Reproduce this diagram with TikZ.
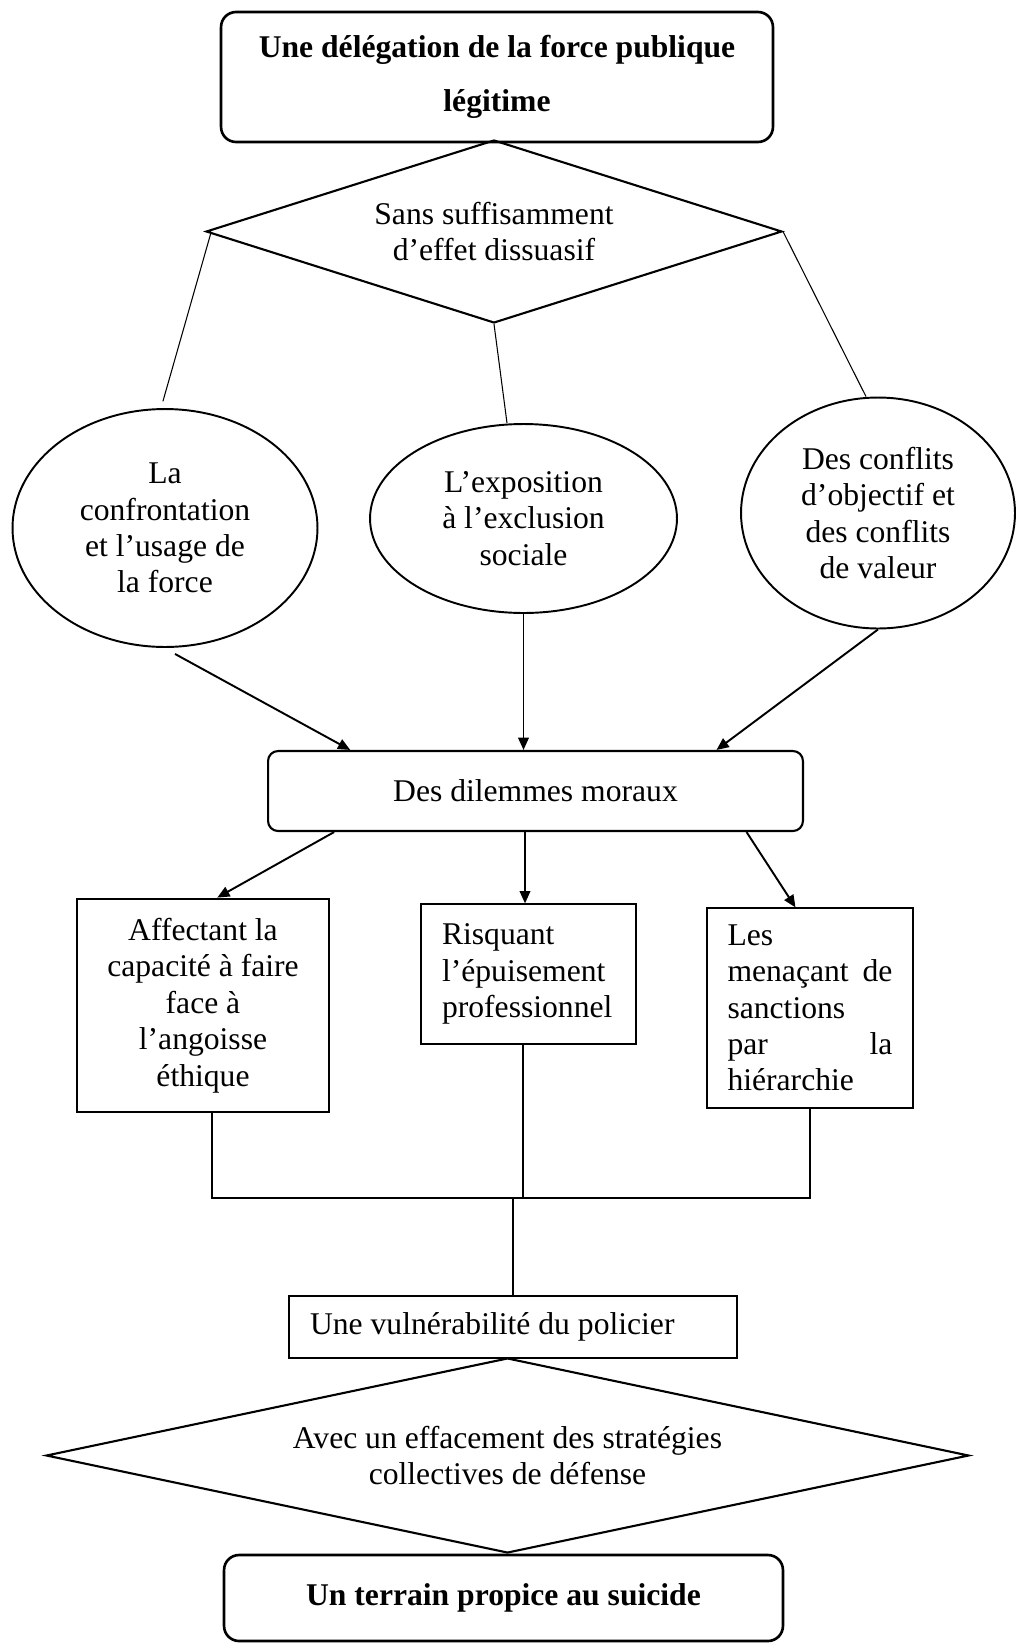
\documentclass[tikz,border=0pt]{standalone}
\usepackage{fontspec}
\setmainfont{Liberation Serif}
\usetikzlibrary{shapes.geometric}
\usetikzlibrary{arrows.meta}
\usetikzlibrary{calc}

\tikzset{
  txt/.style={font=\fontsize{18}{20.7}\selectfont, align=center},
  titre/.style={draw, line width=1.5pt, rounded corners=0.3cm, align=center,
                font=\bfseries\fontsize{18}{31}\selectfont},
  losange/.style={draw, diamond, line width=1.2pt, inner sep=0pt, txt},
  bulle/.style={draw, ellipse, line width=1.1pt, inner sep=0pt, txt},
  cadre/.style={draw, line width=0.7pt, txt},
  fleche/.style={line width=1.1pt, -{Triangle[length=7pt,width=6pt]}},
  fin/.style={line width=0.6pt}
}

\begin{document}
\begin{tikzpicture}[x=0.02cm,y=-0.02cm]
\useasboundingbox (0,0) rectangle (1016,1643);

\node[titre, minimum width=11.04cm, minimum height=2.6cm] (deleg) at (497,77)
     {Une délégation de la force publique\\légitime};
\node[losange, minimum width=11.52cm, minimum height=3.66cm, aspect=3.15] (dissuas) at (494,231.5)
     {Sans suffisamment\\d’effet dissuasif};

\node[bulle, minimum width=6.1cm, minimum height=4.76cm] (confront) at (165,528)
     {La\\confrontation\\et l’usage de\\la force};
\node[bulle, minimum width=6.14cm, minimum height=3.78cm] (exclu) at (523.5,518.5)
     {L’exposition\\à l’exclusion\\sociale};
\node[bulle, minimum width=5.48cm, minimum height=4.62cm] (conflits) at (878,513)
     {Des conflits\\d’objectif et\\des conflits\\de valeur};

\node[draw, line width=1.2pt, rounded corners=0.2cm, txt, minimum width=10.7cm, minimum height=1.6cm]
     (dilem) at (535.5,791) {Des dilemmes moraux};

\node[cadre, line width=1.6pt, minimum width=5.04cm, minimum height=4.26cm] (angoisse) at (203,1005.5)
     {Affectant la\\capacité à faire\\face à\\l’angoisse\\éthique};
\node[cadre, minimum width=4.3cm, minimum height=2.8cm, text width=3.46cm, align=flush left] (epuis) at (528.5,974)
     {Risquant\\l’épuisement\\professionnel};
\node[cadre, minimum width=4.12cm, minimum height=4.0cm, text width=3.3cm, align=flush left] (sanct) at (810,1008)
     {Les\\menaçant\hfill de\\sanctions\\par\hfill la\\hiérarchie};

\node[cadre, minimum width=8.96cm, minimum height=1.24cm, text width=8.12cm, align=flush left] (vulner) at (513,1327)
     {Une vulnérabilité du policier};
\node[losange, minimum width=18.46cm, minimum height=3.9cm, aspect=4.73] (effac) at (507.5,1455.5)
     {Avec un effacement des stratégies\\collectives de défense};
\node[titre, minimum width=11.18cm, minimum height=1.72cm] (terrain) at (503.5,1598)
     {Un terrain propice au suicide};

% liens du losange vers les bulles
\draw[fin, shorten >=4pt] ($(dissuas.west)!0.02!(dissuas.south)$) -- ([xshift=-0.08cm]confront.north);
\draw[fin] (dissuas.south) -- ([xshift=-0.33cm]exclu.north);
\draw[fin] (dissuas.east) -- ([xshift=-0.24cm]conflits.north);

% vers les dilemmes
\draw[fleche] ([xshift=0.2cm,yshift=-0.12cm]confront.south) -- ($(dilem.north west)!0.155!(dilem.north east)$);
\draw[fleche] (exclu.south) -- (exclu.south |- dilem.north);
\draw[fleche] (conflits.south) -- ($(dilem.north west)!0.837!(dilem.north east)$);

\draw[fleche] ($(dilem.south west)!0.125!(dilem.south east)$) -- ($(angoisse.north west)!0.556!(angoisse.north east)$);
\draw[fleche] ([xshift=-0.07cm]epuis.north |- dilem.south) -- ([xshift=-0.07cm]epuis.north);
\draw[fleche] ($(dilem.south west)!0.893!(dilem.south east)$) -- ($(sanct.north west)!0.43!(sanct.north east)$);

% regroupement
\coordinate (jonct) at (513,1198);
\draw[fin] ([xshift=0.18cm]angoisse.south) |- (jonct) -| (sanct.south);
\draw[fin] ([xshift=-0.11cm]epuis.south) -- ([xshift=-0.11cm]epuis.south |- jonct);
\draw[fin] (jonct) -- (vulner.north);
\end{tikzpicture}
\end{document}
